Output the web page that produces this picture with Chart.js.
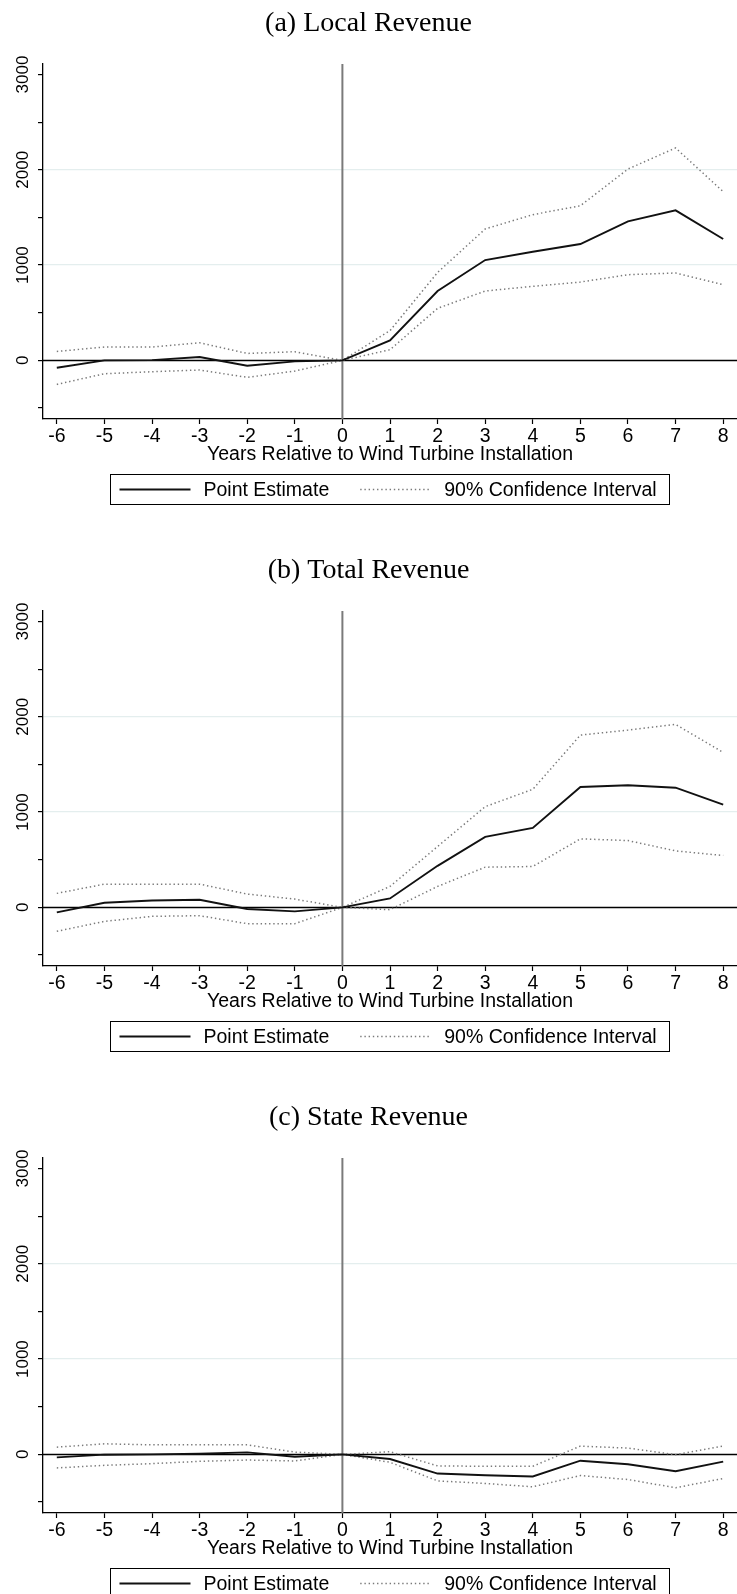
<!DOCTYPE html>
<html>
<head>
<meta charset="utf-8">
<script src="https://cdn.jsdelivr.net/npm/chart.js@4/dist/chart.umd.min.js"></script>
<style>
  html, body { margin: 0; padding: 0; background: #fff; overflow: hidden; }
  .panel { position: relative; width: 737px; height: 547px; }
  canvas { display: block; }
</style>
</head>
<body>
<div class="panel"><canvas id="panelA" width="737" height="547"></canvas></div>
<div class="panel"><canvas id="panelB" width="737" height="547"></canvas></div>
<div class="panel"><canvas id="panelC" width="737" height="547"></canvas></div>
<script>
// Event-study estimates: years relative to wind turbine installation
const years = [-6, -5, -4, -3, -2, -1, 0, 1, 2, 3, 4, 5, 6, 7, 8];

const panelTitles = ['(a) Local Revenue', '(b) Total Revenue', '(c) State Revenue'];
const xAxisTitle = 'Years Relative to Wind Turbine Installation';
const legendLabels = ['Point Estimate', '90% Confidence Interval'];
const yTickValues = [-500, 0, 500, 1000, 1500, 2000, 2500, 3000];
const yLabelTicks = [0, 1000, 2000, 3000];
const yGridTicks = [1000, 2000];

// (a) Local revenue
const localEst = [-77, 0, 3, 35, -56, -10, 0, 210, 728, 1053, 1140, 1221, 1459, 1574, 1274];
const localHi  = [94, 140, 140, 185, 73, 91, 0, 312, 923, 1379, 1529, 1623, 2008, 2229, 1770];
const localLo  = [-252, -140, -119, -101, -178, -112, 0, 112, 546, 728, 777, 822, 899, 917, 794];

// (b) Total revenue
const totalEst = [-52, 49, 73, 80, -17, -42, 0, 94, 436, 740, 834, 1263, 1281, 1256, 1078];
const totalHi  = [147, 244, 244, 244, 140, 87, 0, 220, 639, 1057, 1239, 1808, 1860, 1920, 1626];
const totalLo  = [-251, -147, -94, -87, -171, -171, 0, -24, 220, 422, 429, 719, 701, 593, 544];

// (c) State revenue
const stateEst = [-31, -3, 0, 7, 21, -24, 0, -49, -201, -219, -232, -66, -104, -177, -76];
const stateHi  = [76, 111, 100, 100, 100, 24, 0, 28, -121, -125, -125, 87, 66, -3, 87];
const stateLo  = [-142, -115, -97, -73, -59, -69, 0, -83, -278, -305, -340, -222, -264, -350, -253];

const SANS = '"Liberation Sans", Arial, Helvetica, sans-serif';
const SERIF = '"Liberation Serif", "Times New Roman", serif';
const TEXT_SIZE = 19.5;
const CI_COLOR = '#7a7a7a';
const CI_DASH = [1.4, 2.8];

const toPoints = vals => vals.map((v, i) => ({ x: years[i], y: v }));

// Zero reference line and installation-year marker
const referenceLines = {
  id: 'referenceLines',
  beforeDatasetsDraw(chart) {
    const { ctx, chartArea: a, scales: { x, y } } = chart;
    ctx.save();
    const y0 = y.getPixelForValue(0);
    ctx.strokeStyle = '#000';
    ctx.lineWidth = 1.5;
    ctx.beginPath();
    ctx.moveTo(a.left, y0);
    ctx.lineTo(a.right, y0);
    ctx.stroke();
    const x0 = x.getPixelForValue(0);
    ctx.strokeStyle = '#7a7a7a';
    ctx.lineWidth = 2;
    ctx.beginPath();
    ctx.moveTo(x0, a.top);
    ctx.lineTo(x0, a.bottom);
    ctx.stroke();
    ctx.restore();
  }
};

// Vertical (bottom-to-top) labels on the y axis
const verticalYLabels = {
  id: 'verticalYLabels',
  afterDraw(chart) {
    const { ctx, scales: { y } } = chart;
    ctx.save();
    ctx.font = '17px ' + SANS;
    ctx.fillStyle = '#000';
    ctx.textAlign = 'center';
    ctx.textBaseline = 'middle';
    yLabelTicks.forEach(v => {
      ctx.save();
      ctx.translate(y.right - 20, y.getPixelForValue(v));
      ctx.rotate(-Math.PI / 2);
      ctx.fillText(String(v), 0, 0);
      ctx.restore();
    });
    ctx.restore();
  }
};

// Boxed legend under the x-axis title
const framedLegend = {
  id: 'framedLegend',
  afterDraw(chart) {
    const { ctx, chartArea: a } = chart;
    const items = chart.data.datasets.filter(d => d.inLegend);
    ctx.save();
    ctx.font = TEXT_SIZE + 'px ' + SANS;
    const padL = 9, padR = 13, sample = 71, gapText = 13, gapItem = 31;
    const widths = items.map(d => ctx.measureText(d.label).width);
    let total = padL + padR;
    widths.forEach((w, i) => { total += sample + gapText + w + (i ? gapItem : 0); });
    const boxH = 30;
    const top = a.bottom + 55;
    const left = Math.round((a.left + a.right) / 2 - total / 2) + 0.5;
    ctx.strokeStyle = '#000';
    ctx.lineWidth = 1;
    ctx.strokeRect(left, top + 0.5, Math.round(total), boxH);
    const cy = top + boxH / 2 + 0.5;
    let cx = left + padL;
    items.forEach((d, i) => {
      if (i) cx += gapItem;
      ctx.save();
      ctx.strokeStyle = d.borderColor;
      ctx.lineWidth = d.borderWidth;
      ctx.setLineDash(d.borderDash || []);
      ctx.beginPath();
      ctx.moveTo(cx, cy);
      ctx.lineTo(cx + sample, cy);
      ctx.stroke();
      ctx.restore();
      cx += sample + gapText;
      ctx.fillStyle = '#000';
      ctx.textBaseline = 'middle';
      ctx.textAlign = 'left';
      ctx.fillText(d.label, cx, cy + 1);
      cx += widths[i];
    });
    ctx.restore();
  }
};

function makePanel(canvasId, title, est, hi, lo) {
  return new Chart(document.getElementById(canvasId), {
    type: 'line',
    data: {
      datasets: [
        { label: legendLabels[0], data: toPoints(est), borderColor: '#111', borderWidth: 1.9,
          pointRadius: 0, tension: 0, fill: false, inLegend: true },
        { label: legendLabels[1], data: toPoints(hi), borderColor: CI_COLOR, borderWidth: 1.5,
          borderDash: CI_DASH, pointRadius: 0, tension: 0, fill: false, inLegend: true },
        { label: legendLabels[1], data: toPoints(lo), borderColor: CI_COLOR, borderWidth: 1.5,
          borderDash: CI_DASH, pointRadius: 0, tension: 0, fill: false, inLegend: false }
      ]
    },
    options: {
      responsive: false,
      animation: false,
      events: [],
      layout: { padding: { top: 0, left: 0, right: 0, bottom: 68 } },
      plugins: {
        legend: { display: false },
        tooltip: { enabled: false },
        title: {
          display: true, text: title, color: '#000',
          font: { family: SERIF, size: 28, weight: 'normal', lineHeight: 1.2 },
          padding: { top: 6.4, bottom: 24 }
        }
      },
      scales: {
        x: {
          type: 'linear', min: -6.29, max: 8.29,
          border: { display: true, color: '#000', width: 1.3 },
          grid: { drawOnChartArea: false, drawTicks: true, tickLength: 5, tickColor: '#000', tickWidth: 1.2 },
          ticks: {
            padding: 1, color: '#000', font: { family: SANS, size: TEXT_SIZE },
            maxRotation: 0, autoSkip: false
          },
          afterBuildTicks: s => { s.ticks = years.map(v => ({ value: v })); },
          title: {
            display: true, text: xAxisTitle, color: '#000',
            font: { family: SANS, size: TEXT_SIZE }, padding: { top: 0, bottom: 13 }
          },
          afterFit: s => { s.height = 60; }
        },
        y: {
          type: 'linear', min: -615, max: 3110,
          border: { display: true, color: '#000', width: 1.3 },
          grid: {
            drawTicks: true, tickLength: 5, tickColor: '#000', tickWidth: 1.2, lineWidth: 1.2,
            color: c => (c.tick && yGridTicks.includes(c.tick.value) ? '#e4eeee' : 'rgba(0,0,0,0)')
          },
          ticks: { display: false, autoSkip: false },
          afterBuildTicks: s => { s.ticks = yTickValues.map(v => ({ value: v })); },
          afterFit: s => { s.width = 43; }
        }
      }
    },
    plugins: [referenceLines, verticalYLabels, framedLegend]
  });
}

makePanel('panelA', panelTitles[0], localEst, localHi, localLo);
makePanel('panelB', panelTitles[1], totalEst, totalHi, totalLo);
makePanel('panelC', panelTitles[2], stateEst, stateHi, stateLo);
</script>
</body>
</html>
